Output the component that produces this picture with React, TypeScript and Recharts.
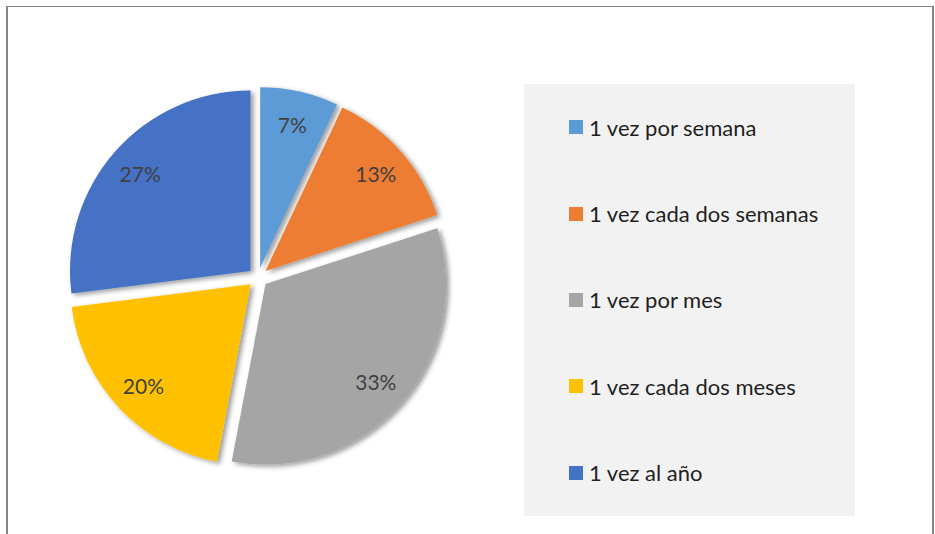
import React from "react";
import { PieChart, Pie, Cell, Legend, Sector, Tooltip } from "recharts";

const categories = [
  "1 vez por semana",
  "1 vez cada dos semanas",
  "1 vez por mes",
  "1 vez cada dos meses",
  "1 vez al año",
];
const values = [7, 13, 33, 20, 27];
const colors = ["#5B9BD5", "#ED7D31", "#A5A5A5", "#FFC000", "#4472C4"];

const data = categories.map((name, i) => ({ name, value: values[i] }));

const RAD = Math.PI / 180;
const EXPLODE = 10;
const FONT = "Lato, 'Liberation Sans', sans-serif";

const explodedSector = (props: any) => {
  const { cx, cy, midAngle, innerRadius, outerRadius, startAngle, endAngle, fill } = props;
  const dx = EXPLODE * Math.cos(-midAngle * RAD);
  const dy = EXPLODE * Math.sin(-midAngle * RAD);
  return (
    <Sector
      cx={cx + dx}
      cy={cy + dy}
      innerRadius={innerRadius}
      outerRadius={outerRadius}
      startAngle={startAngle}
      endAngle={endAngle}
      fill={fill}
      stroke="none"
      filter="url(#sliceShadow)"
    />
  );
};

const renderLabel = (props: any) => {
  const { cx, cy, midAngle, outerRadius, percent } = props;
  const r = outerRadius * 0.815 + EXPLODE;
  const x = cx + r * Math.cos(-midAngle * RAD);
  const y = cy + r * Math.sin(-midAngle * RAD);
  return (
    <text
      x={x}
      y={y}
      fill="#404040"
      fontSize={21}
      fontFamily={FONT}
      textAnchor="middle"
      dominantBaseline="central"
    >
      {`${Math.round(percent * 100)}%`}
    </text>
  );
};

const renderLegend = (props: any) => {
  const payload = [...(props.payload || [])].sort(
    (a: any, b: any) => categories.indexOf(a.value) - categories.indexOf(b.value)
  );
  return (
    <div
      style={{
        width: 331,
        height: 432,
        background: "#F2F2F2",
        display: "flex",
        flexDirection: "column",
      }}
    >
      {payload.map((entry: any, i: number) => (
        <div
          key={i}
          style={{
            height: 86.4,
            display: "flex",
            alignItems: "center",
            paddingLeft: 45,
          }}
        >
          <span
            style={{
              width: 14,
              height: 14,
              background: entry.color,
              display: "inline-block",
              marginRight: 6,
              flexShrink: 0,
            }}
          />
          <span style={{ fontFamily: FONT, fontSize: 22, color: "#1F1F1F", whiteSpace: "nowrap" }}>
            {entry.value}
          </span>
        </div>
      ))}
    </div>
  );
};

export default function App() {
  return (
    <div style={{ position: "absolute", left: 0, top: 0, width: 935, height: 534, overflow: "hidden", background: "#fff" }}>
      <svg width={0} height={0} style={{ position: "absolute" }}>
        <defs>
          <filter id="sliceShadow" x="-20%" y="-20%" width="140%" height="140%">
            <feDropShadow dx={3} dy={2} stdDeviation={2.5} floodColor="#000" floodOpacity={0.4} />
          </filter>
        </defs>
      </svg>
      <div
        style={{
          position: "absolute",
          left: 6,
          top: 6,
          width: 924,
          height: 560,
          borderLeft: "2px solid #858585",
          borderTop: "1px solid #858585",
          borderRight: "2px solid #858585",
        }}
      />
      <div style={{ position: "absolute", left: 0, top: 0 }}>
        <PieChart width={935} height={534} margin={{ top: 0, right: 0, bottom: 0, left: 0 }}>
          <Pie
            data={data}
            dataKey="value"
            nameKey="name"
            cx={258}
            cy={277.5}
            outerRadius={180.5}
            startAngle={90}
            endAngle={-270}
            isAnimationActive={false}
            label={renderLabel}
            labelLine={false}
            shape={explodedSector}
            activeShape={explodedSector}
            inactiveShape={explodedSector}
          >
            {data.map((d, i) => (
              <Cell key={d.name} fill={colors[i]} />
            ))}
          </Pie>
          <Tooltip defaultIndex={0} content={() => null} cursor={false} />
          <Legend
            content={renderLegend}
            wrapperStyle={{ position: "absolute", left: 524, top: 84, width: 331, height: 432 }}
          />
        </PieChart>
      </div>
    </div>
  );
}
